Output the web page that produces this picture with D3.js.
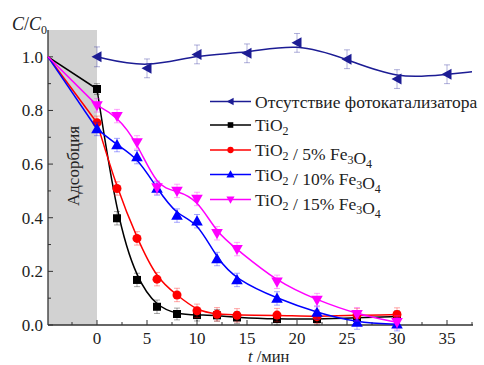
<!DOCTYPE html>
<html><head><meta charset="utf-8">
<script src="https://cdn.jsdelivr.net/npm/d3@7"></script>
<style>
body{margin:0;background:#fff}
svg{display:block}
text{font-family:"Liberation Serif","Times New Roman",serif;fill:#222}
</style>
</head><body>
<svg id="c" width="484" height="365"></svg>
<script>
// ---- data ----
const times = [0, 2, 4, 6, 8, 10, 12, 14, 18, 22, 26, 30];
const tio2Values    = [0.880, 0.398, 0.168, 0.068, 0.041, 0.037, 0.036, 0.028, 0.022, 0.022, 0.027, 0.032];
const tio2Err       = [0.020, 0.025, 0.025, 0.025, 0.022, 0.022, 0.022, 0.022, 0.022, 0.022, 0.022, 0.022];
const fe5Values     = [0.754, 0.509, 0.323, 0.171, 0.112, 0.053, 0.040, 0.036, 0.037, 0.031, 0.037, 0.039];
const fe5Err        = [0.025, 0.025, 0.025, 0.025, 0.025, 0.025, 0.025, 0.025, 0.025, 0.025, 0.025, 0.025];
const fe10Values    = [0.731, 0.671, 0.626, 0.509, 0.408, 0.387, 0.246, 0.168, 0.099, 0.046, 0.009, 0.003];
const fe10Err       = [0.025, 0.025, 0.025, 0.025, 0.025, 0.025, 0.025, 0.025, 0.025, 0.025, 0.025, 0.025];
const fe15Values    = [0.819, 0.779, 0.681, 0.513, 0.500, 0.470, 0.342, 0.283, 0.161, 0.093, 0.040, 0.010];
const fe15Err       = [0.025, 0.025, 0.025, 0.025, 0.025, 0.025, 0.025, 0.025, 0.025, 0.025, 0.025, 0.025];
const noCatTimes    = [0, 5, 10, 15, 20, 25, 30, 35];
const noCatValues   = [1.000, 0.957, 1.009, 1.013, 1.052, 0.991, 0.917, 0.935];
const noCatErr      = [0.037, 0.035, 0.035, 0.035, 0.035, 0.035, 0.035, 0.035];
const noCatTailTime = 37.5, noCatTailValue = 0.944;
const adsorptionStartTime = -4.9, adsorptionStartValue = 1.0;
const seriesNames = ["Отсутствие фотокатализатора", "TiO2", "TiO2 / 5% Fe3O4", "TiO2 / 10% Fe3O4", "TiO2 / 15% Fe3O4"];
const xTicks = [0, 5, 10, 15, 20, 25, 30, 35];
const yTicks = [0.0, 0.2, 0.4, 0.6, 0.8, 1.0];
const xDomain = [-4.9, 37.6];
const yDomain = [0, 1.1];

// ---- layout ----
const svg = d3.select("#c");
const x = d3.scaleLinear().domain(xDomain).range([48, 473]);
const y = d3.scaleLinear().domain(yDomain).range([325, 30]);
const axisColor = "#333";

// adsorption shaded region
svg.append("rect")
  .attr("x", x(xDomain[0])).attr("y", y(yDomain[1]))
  .attr("width", x(0) - x(xDomain[0])).attr("height", y(0) - y(yDomain[1]))
  .attr("fill", "#d2d2d2");
svg.append("text")
  .attr("transform", `translate(${(x(xDomain[0]) + x(0)) / 2 + 6},166) rotate(-90)`)
  .attr("text-anchor", "middle").style("font-size", "17px").text("Адсорбция");

// axes
const xMinor = d3.range(-2.5, 37.6, 5);
const yMinor = d3.range(0.1, 1.1, 0.2);
const gx = svg.append("g").attr("transform", `translate(0,${y(0)})`);
gx.append("line").attr("x1", x.range()[0]).attr("x2", x.range()[1]).attr("stroke", axisColor).attr("stroke-width", 1.3);
gx.selectAll(".maj").data(xTicks).join("line").attr("x1", d => x(d)).attr("x2", d => x(d)).attr("y1", 0).attr("y2", -5).attr("stroke", axisColor);
gx.selectAll(".min").data(xMinor).join("line").attr("x1", d => x(d)).attr("x2", d => x(d)).attr("y1", 0).attr("y2", -3).attr("stroke", axisColor);
gx.selectAll(".lab").data(xTicks).join("text").attr("x", d => x(d)).attr("y", 19).attr("text-anchor", "middle").style("font-size", "17px").text(d => d);

const gy = svg.append("g").attr("transform", `translate(${x.range()[0]},0)`);
gy.append("line").attr("y1", y.range()[0]).attr("y2", y.range()[1]).attr("stroke", axisColor).attr("stroke-width", 1.3);
gy.selectAll(".maj").data(yTicks).join("line").attr("y1", d => y(d)).attr("y2", d => y(d)).attr("x1", 0).attr("x2", 5).attr("stroke", axisColor);
gy.selectAll(".min").data(yMinor).join("line").attr("y1", d => y(d)).attr("y2", d => y(d)).attr("x1", 0).attr("x2", 3).attr("stroke", axisColor);
gy.selectAll(".lab").data(yTicks).join("text").attr("x", -5).attr("y", d => y(d) + 6).attr("text-anchor", "end").style("font-size", "17px").text(d => d.toFixed(1));

// axis titles
const yt = svg.append("text").attr("x", 12).attr("y", 30).style("font-size", "18px");
yt.append("tspan").style("font-style", "italic").text("C");
yt.append("tspan").text("/");
yt.append("tspan").style("font-style", "italic").text("C");
yt.append("tspan").attr("dy", 4).style("font-size", "12px").text("0");
const xt = svg.append("text").attr("x", 248).attr("y", 362).style("font-size", "16.5px");
xt.append("tspan").style("font-style", "italic").text("t");
xt.append("tspan").text(" /мин");

// marker symbols
const sym = {
  left: (s) => `M${-s*0.55},0L${s*0.45},${-s*0.55}L${s*0.45},${s*0.55}Z`,
  square: (s) => `M${-s/2},${-s/2}h${s}v${s}h${-s}Z`,
  circle: (s) => `M${s/2},0A${s/2},${s/2} 0 1,1 ${-s/2},0A${s/2},${s/2} 0 1,1 ${s/2},0Z`,
  up: (s) => `M0,${-s*0.6}L${s*0.58},${s*0.42}L${-s*0.58},${s*0.42}Z`,
  down: (s) => `M0,${s*0.6}L${s*0.58},${-s*0.42}L${-s*0.58},${-s*0.42}Z`
};

const series = [
  {name: seriesNames[0], t: noCatTimes, v: noCatValues, e: noCatErr, color: "#1c1c94", m: "left", size: 10, ads: false},
  {name: seriesNames[1], t: times, v: tio2Values, e: tio2Err, color: "#000000", m: "square", size: 8, ads: true},
  {name: seriesNames[2], t: times, v: fe5Values, e: fe5Err, color: "#ff0000", m: "circle", size: 9, ads: true},
  {name: seriesNames[3], t: times, v: fe10Values, e: fe10Err, color: "#0000ff", m: "up", size: 10, ads: true},
  {name: seriesNames[4], t: times, v: fe15Values, e: fe15Err, color: "#ff00ff", m: "down", size: 10, ads: true}
];

const line = d3.line().x(d => x(d[0])).y(d => y(d[1])).curve(d3.curveBasis);
const straight = d3.line().x(d => x(d[0])).y(d => y(d[1]));

series.forEach(s => {
  const pts = s.t.map((t, i) => [t, s.v[i]]);
  const g = svg.append("g");
  pts.forEach((p, i) => {
    const cx = x(p[0]), y1 = y(p[1] - s.e[i]), y2 = y(p[1] + s.e[i]);
    g.append("path").attr("d", `M${cx},${y1}V${y2}M${cx-3},${y1}H${cx+3}M${cx-3},${y2}H${cx+3}`)
      .attr("stroke", s.color).attr("stroke-opacity", 0.35).attr("fill", "none").attr("stroke-width", 1);
  });
  if (s.ads) {
    g.append("path").attr("d", straight([[adsorptionStartTime, adsorptionStartValue], pts[0]]))
      .attr("stroke", s.color).attr("fill", "none").attr("stroke-width", 1.5);
  }
  const curvePts = s.ads ? pts : pts.concat([[noCatTailTime, noCatTailValue]]);
  g.append("path").attr("d", line(curvePts)).attr("stroke", s.color).attr("fill", "none").attr("stroke-width", 1.5);
  s.g = g; s.pts = pts;
});
series.forEach(s => {
  s.g.selectAll(".mk").data(s.pts).join("path")
    .attr("d", sym[s.m](s.size)).attr("transform", d => `translate(${x(d[0])},${y(d[1])})`)
    .attr("fill", s.color);
});

// legend
const leg = svg.append("g");
const legY = [101.5, 125, 150, 174.5, 199.5];
series.forEach((s, i) => {
  const ly = legY[i];
  leg.append("line").attr("x1", 210).attr("x2", 251).attr("y1", ly).attr("y2", ly).attr("stroke", s.color).attr("stroke-width", 1.5);
  leg.append("path").attr("d", sym[s.m](s.size * 0.7)).attr("transform", `translate(230.5,${ly})`).attr("fill", s.color);
  const t = leg.append("text").attr("x", 255).attr("y", ly + 6).style("font-size", "17.5px");
  const parts = s.name.split(/(O2|e3|O4)/);
  parts.forEach(p => {
    if (p === "O2" || p === "e3" || p === "O4") {
      t.append("tspan").text(p[0]);
      t.append("tspan").attr("dy", 4).style("font-size", "12px").text(p[1]);
      t.append("tspan").attr("dy", -4).text("");
    } else if (p) t.append("tspan").text(p);
  });
});
</script>
</body></html>
